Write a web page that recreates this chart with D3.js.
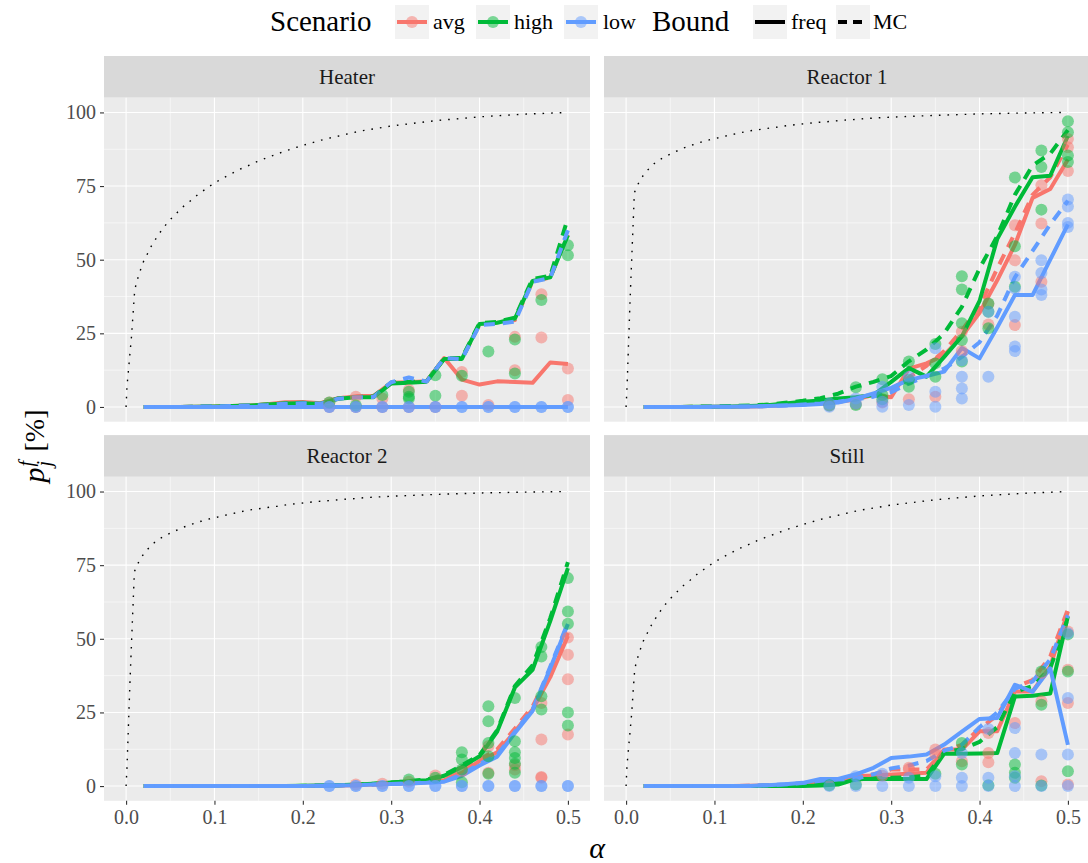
<!DOCTYPE html>
<html>
<head>
<meta charset="utf-8">
<script src="https://cdn.jsdelivr.net/npm/d3@7"></script>
<style>
  body { margin: 0; background: #ffffff; }
  svg { display: block; }
</style>
</head>
<body>
<svg id="chart" width="1088" height="863"></svg>
<script>
// ---- data ---------------------------------------------------------------
const panelNames = ["Heater", "Reactor 1", "Reactor 2", "Still"];
const scenarios = ["avg", "high", "low"];
const bounds = ["freq", "MC"];
const xTicks = [0.0, 0.1, 0.2, 0.3, 0.4, 0.5];
const xTickLabels = ["0.0", "0.1", "0.2", "0.3", "0.4", "0.5"];
const yTicks = [0, 25, 50, 75, 100];
const yTickLabels = ["0", "25", "50", "75", "100"];

// significance levels at which the bound curves are evaluated
const lineAlpha = [0.02, 0.04, 0.06, 0.08, 0.10, 0.12, 0.14, 0.16, 0.18, 0.20, 0.22, 0.24, 0.26,
                   0.28, 0.30, 0.32, 0.34, 0.36, 0.38, 0.40, 0.42, 0.44, 0.46, 0.48, 0.50];

// Heater
const heaterAvgFreq  = [0,0,0,0.1,0.2,0.3,0.5,0.9,1.6,1.7,1.3,3.0,3.6,3.8,8.2,8.4,8.7,16.6,9.3,7.6,8.7,8.5,8.2,15.1,14.6];
const heaterAvgMC    = [0,0,0,0.1,0.2,0.3,0.5,0.8,1.3,1.4,1.2,2.9,3.5,3.5,8.1,8.5,8.7,16.4,16.3,28.0,28.6,29.5,42.6,44.0,58.5];
const heaterHighFreq = [0,0,0,0.1,0.2,0.3,0.5,0.8,1.2,1.3,1.0,2.8,3.3,3.3,8.0,8.2,8.6,16.3,16.3,28.2,28.6,30.0,42.8,44.0,58.3];
const heaterHighMC   = [0,0,0,0.1,0.2,0.3,0.5,0.8,1.2,1.4,1.1,2.9,3.4,3.6,8.3,8.5,8.7,16.5,16.6,28.5,28.9,30.3,43.5,44.5,64.2];
const heaterLowFreq  = [0,0,0,0,0,0,0,0,0,0,0,0,0,0,0,0,0,0,0,0,0,0,0,0,0];
const heaterLowMC    = [0,0,0,0.1,0.2,0.3,0.5,0.7,1.1,1.3,1.1,2.8,3.3,3.4,8.4,10.0,8.6,16.6,16.2,27.8,28.2,29.0,42.5,43.8,60.0];

// Reactor 1
const r1AvgFreq  = [0,0,0,0,0.1,0.1,0.2,0.3,0.6,1.0,1.3,1.8,2.5,4.1,3.3,13.0,14.8,17.6,24.0,32.0,43.0,55.0,71.0,74.0,84.0];
const r1AvgMC    = [0,0,0,0.1,0.1,0.2,0.3,0.5,0.8,1.2,1.8,2.5,3.2,4.0,6.0,10.0,14.0,19.0,26.0,34.0,47.0,59.0,72.0,78.0,89.0];
const r1HighFreq = [0,0,0,0.1,0.1,0.2,0.3,0.6,1.2,1.8,2.2,2.9,3.3,4.1,8.5,13.2,10.3,17.0,24.0,36.0,57.0,68.0,78.0,78.5,92.0];
const r1HighMC   = [0,0,0,0.1,0.2,0.3,0.5,0.8,1.4,2.1,3.0,4.5,6.9,8.5,10.5,15.5,19.5,25.0,34.0,47.0,58.0,72.0,82.0,86.0,94.0];
const r1LowFreq  = [0,0,0,0,0.1,0.1,0.2,0.3,0.5,0.7,1.0,1.5,2.8,4.6,6.5,9.2,10.5,12.0,20.0,16.5,27.0,38.0,38.0,50.0,62.0];
const r1LowMC    = [0,0,0,0,0.1,0.1,0.2,0.3,0.5,0.8,1.2,1.8,2.6,3.5,5.0,8.0,10.5,13.0,17.0,22.0,31.0,44.0,53.0,62.0,70.0];

// Reactor 2
const r2AvgFreq  = [0,0,0,0,0,0,0,0,0,0,0.1,0.2,0.3,0.5,0.8,1.0,1.3,2.0,4.5,8.5,11.5,18.5,26.0,37.0,51.0];
const r2AvgMC    = [0,0,0,0,0,0,0,0,0,0,0.1,0.2,0.3,0.5,0.8,1.1,1.5,2.2,5.0,9.0,12.5,19.5,27.0,39.0,52.0];
const r2HighFreq = [0,0,0,0,0,0,0,0,0,0.1,0.2,0.3,0.5,0.8,1.2,1.6,2.0,3.5,6.5,10.1,18.5,33.5,39.5,56.0,74.0];
const r2HighMC   = [0,0,0,0,0,0,0,0,0,0.1,0.2,0.3,0.5,0.8,1.2,1.7,2.2,3.8,7.0,10.5,19.0,34.0,41.0,57.0,76.0];
const r2LowFreq  = [0,0,0,0,0,0,0,0,0,0,0.1,0.2,0.3,0.5,0.7,0.9,1.1,1.5,3.5,7.0,10.0,18.0,25.5,40.0,55.0];
const r2LowMC    = [0,0,0,0,0,0,0,0,0,0,0.1,0.2,0.3,0.5,0.7,0.9,1.2,1.6,4.0,7.5,10.5,18.5,26.0,40.5,55.5];

// Still
const stillAvgFreq  = [0,0,0,0,0,0,0.1,0.2,0.4,0.6,1.2,2.0,3.3,3.6,3.9,4.2,4.5,12.4,12.4,18.6,18.6,32.1,32.1,40.6,59.3];
const stillAvgMC    = [0,0,0,0,0,0,0.1,0.2,0.4,0.7,1.3,2.1,2.8,4.0,5.6,5.6,5.6,12.0,14.0,19.5,24.0,33.5,36.0,44.0,60.0];
const stillHighFreq = [0,0,0,0,0,0,0,0,0,0,0.2,0.5,2.4,2.4,2.4,2.4,2.4,11.0,11.0,11.1,11.2,30.4,30.7,31.4,57.6];
const stillHighMC   = [0,0,0,0,0,0,0,0.1,0.2,0.3,0.6,1.2,2.2,2.6,2.8,3.0,3.5,11.5,12.5,15.0,20.0,32.0,34.0,40.0,57.0];
const stillLowFreq  = [0,0,0,0,0,0,0,0.3,0.6,1.1,2.4,2.4,4.0,6.2,9.5,10.0,10.7,14.1,18.5,22.8,23.1,34.4,32.0,40.0,14.0];
const stillLowMC    = [0,0,0,0,0,0,0.1,0.3,0.6,1.0,1.8,2.2,2.5,4.0,6.0,7.0,8.5,12.0,14.0,20.0,25.0,33.0,35.5,43.0,58.0];

// observed failure rates per replicate: [alpha, percent]
const heaterAvgPts  = [[0.23,0],[0.23,1.5],[0.26,0],[0.26,3.5],[0.29,0],[0.29,2.9],[0.32,0],[0.32,5.8],[0.35,0],[0.38,3.8],[0.38,11.9],[0.41,0.7],[0.44,12.5],[0.44,23.8],[0.47,23.6],[0.47,38.3],[0.50,2.4],[0.50,13.1]];
const heaterHighPts = [[0.23,1.5],[0.26,0.5],[0.29,4.1],[0.32,5.2],[0.32,2.9],[0.32,3.5],[0.35,3.8],[0.35,10.8],[0.38,10.6],[0.41,18.8],[0.44,11.4],[0.44,22.9],[0.47,36.3],[0.50,51.5],[0.50,54.9]];
const heaterLowPts  = [[0.23,0],[0.26,0],[0.29,0],[0.32,0],[0.35,0],[0.38,0],[0.41,0],[0.44,0],[0.47,0],[0.50,0],[0.23,0],[0.26,0],[0.29,0],[0.32,0],[0.35,0],[0.38,0],[0.41,0],[0.44,0],[0.47,0],[0.50,0]];

const r1AvgPts  = [[0.23,0.5],[0.26,1.0],[0.29,1.5],[0.32,2.6],[0.35,3.5],[0.38,19.0],[0.38,25.5],[0.41,28.0],[0.41,35.0],[0.44,27.8],[0.44,49.8],[0.44,61.7],[0.47,42.5],[0.47,62.3],[0.47,75.3],[0.50,80.1],[0.50,88.2],[0.50,91.0]];
const r1HighPts = [[0.23,0.5],[0.26,6.7],[0.26,0.7],[0.29,9.4],[0.29,2.6],[0.29,4.1],[0.32,15.4],[0.32,6.9],[0.32,9.2],[0.35,21.4],[0.35,14.8],[0.35,10.3],[0.38,44.4],[0.38,39.9],[0.38,28.4],[0.38,22.7],[0.38,15.4],[0.41,35.1],[0.41,32.3],[0.41,26.7],[0.44,77.9],[0.44,54.6],[0.44,40.8],[0.47,87.1],[0.47,81.5],[0.47,67.0],[0.50,97.0],[0.50,93.3],[0.50,85.4],[0.50,83.2]];
const r1LowPts  = [[0.23,1.2],[0.23,0.1],[0.26,2.9],[0.26,1.2],[0.29,6.9],[0.29,0.1],[0.29,1.8],[0.32,10.3],[0.32,0.7],[0.35,19.9],[0.35,5.2],[0.35,0.1],[0.38,15.9],[0.38,10.3],[0.38,6.3],[0.38,2.9],[0.41,32.3],[0.41,10.3],[0.44,44.2],[0.44,40.2],[0.44,30.6],[0.44,20.5],[0.44,19.0],[0.47,49.8],[0.47,45.5],[0.47,39.9],[0.47,38.0],[0.50,70.4],[0.50,68.1],[0.50,62.5],[0.50,61.1]];

const r2AvgPts  = [[0.26,0.5],[0.29,0.8],[0.32,1.5],[0.35,3.6],[0.38,5.0],[0.41,13.5],[0.41,4.5],[0.44,7.1],[0.44,5.6],[0.47,28.2],[0.47,15.8],[0.47,3.1],[0.47,2.8],[0.50,50.4],[0.50,44.6],[0.50,36.3],[0.50,17.5]];
const r2HighPts = [[0.32,2.2],[0.35,2.8],[0.38,11.5],[0.38,9.0],[0.38,5.6],[0.38,1.3],[0.41,27.1],[0.41,22.0],[0.41,14.6],[0.41,10.1],[0.41,4.2],[0.44,29.9],[0.44,15.2],[0.44,11.5],[0.44,9.5],[0.44,7.6],[0.44,4.5],[0.47,47.2],[0.47,44.0],[0.47,30.5],[0.47,26.0],[0.50,70.6],[0.50,59.3],[0.50,55.1],[0.50,25.0],[0.50,20.6]];
const r2LowPts  = [[0.23,0],[0.26,0],[0.29,0],[0.32,0],[0.35,0],[0.38,0],[0.41,0],[0.44,0],[0.47,0],[0.50,0],[0.23,0],[0.26,0],[0.29,0],[0.32,0],[0.35,0],[0.38,0],[0.41,0],[0.44,0],[0.47,0],[0.50,0]];

const stillAvgPts  = [[0.29,3.5],[0.32,6.2],[0.32,5.6],[0.35,12.4],[0.35,10.7],[0.38,8.4],[0.41,18.0],[0.41,11.2],[0.41,8.1],[0.44,21.4],[0.47,28.8],[0.47,38.4],[0.47,1.6],[0.50,28.2],[0.50,39.5],[0.50,52.5],[0.50,0.5]];
const stillHighPts = [[0.23,0.3],[0.26,0.5],[0.35,4.2],[0.38,14.6],[0.38,7.3],[0.41,0.3],[0.44,7.3],[0.44,4.5],[0.44,2.8],[0.47,27.6],[0.47,38.9],[0.47,0.2],[0.50,5.0],[0.50,38.9],[0.50,51.5]];
const stillLowPts  = [[0.23,0],[0.26,0],[0.26,3.3],[0.29,0],[0.29,4.2],[0.32,0],[0.32,2.8],[0.35,0],[0.35,3.3],[0.38,0],[0.38,2.8],[0.38,11.2],[0.41,0],[0.41,2.8],[0.41,19.4],[0.44,0],[0.44,11.2],[0.44,19.7],[0.44,3.3],[0.47,10.7],[0.47,0],[0.50,0],[0.50,10.7],[0.50,29.9],[0.50,51.9]];

// theoretical upper bound curves: [alpha, percent]
const boundGradual = [[0,0],[0.001,7.0],[0.002,10.2],[0.004,16.9],[0.006,23.5],[0.0075,29.9],[0.009,36.5],[0.0098,39.8],
  [0.0124,42.9],[0.0158,46.1],[0.0196,49.3],[0.0245,52.2],[0.0294,55.1],[0.0354,57.9],[0.0415,60.6],[0.0486,63.2],
  [0.0562,65.5],[0.0641,67.9],[0.0724,69.9],[0.0807,72.0],[0.0901,74.0],[0.0988,75.8],[0.1082,77.5],[0.118,79.0],
  [0.1278,80.6],[0.138,81.9],[0.1482,83.3],[0.1583,84.5],[0.1685,85.6],[0.1791,86.8],[0.1893,87.8],[0.1998,88.8],
  [0.2104,89.7],[0.2209,90.6],[0.2318,91.4],[0.2424,92.1],[0.2533,92.9],[0.2639,93.6],[0.30,95.4],[0.35,97.2],
  [0.40,98.5],[0.45,99.4],[0.50,100]];
const boundSteep = [[0,0],[0.0011,7.0],[0.0045,36.3],[0.0072,56.5],[0.0094,72.8],[0.0136,75.7],[0.0192,78.5],
  [0.0264,81.1],[0.0347,83.4],[0.0441,85.0],[0.0539,86.4],[0.0641,87.8],[0.0743,88.9],[0.0848,89.9],[0.0954,90.8],
  [0.106,91.5],[0.1172,92.3],[0.1278,93.0],[0.1387,93.7],[0.1493,94.1],[0.1602,94.6],[0.1712,95.0],[0.1821,95.5],
  [0.193,95.9],[0.204,96.2],[0.2149,96.6],[0.2258,96.8],[0.2367,97.1],[0.2477,97.4],[0.2586,97.6],[0.2696,97.9],
  [0.30,98.4],[0.35,99.0],[0.40,99.5],[0.45,99.8],[0.50,100]];

// ---- assemble per-panel tables -----------------------------------------
const panelLines = [
  { avg: [heaterAvgFreq, heaterAvgMC], high: [heaterHighFreq, heaterHighMC], low: [heaterLowFreq, heaterLowMC] },
  { avg: [r1AvgFreq, r1AvgMC], high: [r1HighFreq, r1HighMC], low: [r1LowFreq, r1LowMC] },
  { avg: [r2AvgFreq, r2AvgMC], high: [r2HighFreq, r2HighMC], low: [r2LowFreq, r2LowMC] },
  { avg: [stillAvgFreq, stillAvgMC], high: [stillHighFreq, stillHighMC], low: [stillLowFreq, stillLowMC] }
];
const panelPoints = [
  { avg: heaterAvgPts, high: heaterHighPts, low: heaterLowPts },
  { avg: r1AvgPts, high: r1HighPts, low: r1LowPts },
  { avg: r2AvgPts, high: r2HighPts, low: r2LowPts },
  { avg: stillAvgPts, high: stillHighPts, low: stillLowPts }
];
const panelBound = [boundGradual, boundSteep, boundSteep, boundGradual];

// ---- styling ------------------------------------------------------------
const FONT = '"Liberation Serif", "DejaVu Serif", serif';
const colour = { avg: "#F8766D", high: "#00BA38", low: "#619CFF" };
const dashFor = { freq: null, MC: "11,8" };

const PW = 486, PH = 324, STRIP = 41.7;
const colLeft = [104, 604];
const rowTop = [97.7, 476.8];

const svg = d3.select("#chart");

panelNames.forEach((name, i) => {
  const col = i % 2, row = Math.floor(i / 2);
  const left = colLeft[col], top = rowTop[row];
  const x = d3.scaleLinear().domain([-0.025, 0.525]).range([left, left + PW]);
  const y = d3.scaleLinear().domain([-5, 105]).range([top + PH, top]);

  const g = svg.append("g");
  const clipId = "clip" + i;
  svg.append("clipPath").attr("id", clipId)
    .append("rect").attr("x", left).attr("y", top).attr("width", PW).attr("height", PH);

  // strip
  g.append("rect").attr("x", left).attr("y", top - STRIP).attr("width", PW).attr("height", STRIP)
    .attr("fill", "#D9D9D9");
  g.append("text").attr("x", left + PW / 2).attr("y", top - STRIP / 2 + 7)
    .attr("text-anchor", "middle").attr("font-family", FONT).attr("font-size", 21)
    .attr("fill", "#1A1A1A").text(name);

  // panel background and grid
  g.append("rect").attr("x", left).attr("y", top).attr("width", PW).attr("height", PH).attr("fill", "#EBEBEB");
  const xMinor = [0.05, 0.15, 0.25, 0.35, 0.45];
  const yMinor = [12.5, 37.5, 62.5, 87.5];
  g.selectAll(null).data(xMinor).join("line")
    .attr("x1", d => x(d)).attr("x2", d => x(d)).attr("y1", top).attr("y2", top + PH)
    .attr("stroke", "#fff").attr("stroke-width", 0.55);
  g.selectAll(null).data(yMinor).join("line")
    .attr("y1", d => y(d)).attr("y2", d => y(d)).attr("x1", left).attr("x2", left + PW)
    .attr("stroke", "#fff").attr("stroke-width", 0.55);
  g.selectAll(null).data(xTicks).join("line")
    .attr("x1", d => x(d)).attr("x2", d => x(d)).attr("y1", top).attr("y2", top + PH)
    .attr("stroke", "#fff").attr("stroke-width", 1.1);
  g.selectAll(null).data(yTicks).join("line")
    .attr("y1", d => y(d)).attr("y2", d => y(d)).attr("x1", left).attr("x2", left + PW)
    .attr("stroke", "#fff").attr("stroke-width", 1.1);

  const plot = g.append("g").attr("clip-path", `url(#${clipId})`);

  // bound curve
  const curve = d3.line().x(d => x(d[0])).y(d => y(d[1]));
  plot.append("path").attr("d", curve(panelBound[i]))
    .attr("fill", "none").attr("stroke", "#000").attr("stroke-width", 1.4)
    .attr("stroke-dasharray", "1.6,7").attr("stroke-linecap", "butt");

  // scenario lines
  const line = d3.line().x((d, k) => x(lineAlpha[k])).y(d => y(d));
  scenarios.forEach(s => {
    bounds.forEach((b, bi) => {
      const p = plot.append("path").attr("d", line(panelLines[i][s][bi]))
        .attr("fill", "none").attr("stroke", colour[s]).attr("stroke-width", 4)
        .attr("stroke-linejoin", "round");
      if (dashFor[b]) p.attr("stroke-dasharray", dashFor[b]);
    });
  });

  // replicate points
  scenarios.forEach(s => {
    plot.selectAll(null).data(panelPoints[i][s]).join("circle")
      .attr("cx", d => x(d[0])).attr("cy", d => y(d[1])).attr("r", 6)
      .attr("fill", colour[s]).attr("fill-opacity", 0.5);
  });

  // axes
  if (col === 0) {
    const ya = g.append("g").attr("transform", `translate(${left},0)`)
      .call(d3.axisLeft(y).tickValues(yTicks).tickFormat((d, k) => yTickLabels[k]).tickSize(4).tickPadding(4));
    ya.select(".domain").remove();
    ya.selectAll(".tick line").attr("stroke", "#333333").attr("stroke-width", 1.1);
    ya.selectAll(".tick text").attr("font-family", FONT).attr("font-size", 20).attr("fill", "#4D4D4D");
  }
  if (row === 1) {
    const xa = g.append("g").attr("transform", `translate(0,${top + PH})`)
      .call(d3.axisBottom(x).tickValues(xTicks).tickFormat((d, k) => xTickLabels[k]).tickSize(4).tickPadding(5));
    xa.select(".domain").remove();
    xa.selectAll(".tick line").attr("stroke", "#333333").attr("stroke-width", 1.1);
    xa.selectAll(".tick text").attr("font-family", FONT).attr("font-size", 20).attr("fill", "#4D4D4D");
  }
});

// ---- axis titles ----------------------------------------------------------
svg.append("text").attr("x", 597).attr("y", 858).attr("text-anchor", "middle")
  .attr("font-family", FONT).attr("font-size", 30).attr("font-style", "italic").attr("fill", "#000").text("α");

const yt = svg.append("g");
const yText = yt.append("text").attr("font-family", FONT).attr("fill", "#000");
yText.append("tspan").attr("font-size", 30).attr("font-style", "italic").text("p");
const pW = yText.node().getComputedTextLength();
yt.append("text").attr("x", pW + 1).attr("y", -11).attr("font-family", FONT).attr("font-size", 20)
  .attr("font-style", "italic").text("f");
yt.append("text").attr("x", pW + 1).attr("y", 7).attr("font-family", FONT).attr("font-size", 20)
  .attr("font-style", "italic").text("j");
yt.append("text").attr("x", pW + 16).attr("y", 0).attr("font-family", FONT).attr("font-size", 28).text("[%]");
const ytBox = yt.node().getBBox();
yt.attr("transform", `translate(44,${445 + ytBox.width / 2}) rotate(-90)`);

// ---- legend -----------------------------------------------------------------
const lg = svg.append("g");
const legendY = 22;
lg.append("text").attr("x", 270).attr("y", legendY + 9).attr("font-family", FONT)
  .attr("font-size", 29).attr("fill", "#000").text("Scenario");
const scenKeyX = [395, 476, 564];
const scenTextX = [433, 514, 603];
scenarios.forEach((s, k) => {
  const kx = scenKeyX[k];
  lg.append("rect").attr("x", kx).attr("y", legendY - 17).attr("width", 34).attr("height", 34).attr("fill", "#F2F2F2");
  lg.append("line").attr("x1", kx + 2).attr("x2", kx + 32).attr("y1", legendY).attr("y2", legendY)
    .attr("stroke", colour[s]).attr("stroke-width", 4);
  lg.append("circle").attr("cx", kx + 17).attr("cy", legendY).attr("r", 6)
    .attr("fill", colour[s]).attr("fill-opacity", 0.5);
  lg.append("text").attr("x", scenTextX[k]).attr("y", legendY + 7).attr("font-family", FONT)
    .attr("font-size", 22).attr("fill", "#000").text(s);
});
lg.append("text").attr("x", 652).attr("y", legendY + 9).attr("font-family", FONT)
  .attr("font-size", 29).attr("fill", "#000").text("Bound");
const boundKeyX = [753, 836];
const boundTextX = [791, 873];
bounds.forEach((b, k) => {
  const kx = boundKeyX[k];
  lg.append("rect").attr("x", kx).attr("y", legendY - 17).attr("width", 34).attr("height", 34).attr("fill", "#F2F2F2");
  const l = lg.append("line").attr("x1", kx + 2).attr("x2", kx + 32).attr("y1", legendY).attr("y2", legendY)
    .attr("stroke", "#000").attr("stroke-width", 4);
  if (dashFor[b]) l.attr("stroke-dasharray", "9,6");
  lg.append("text").attr("x", boundTextX[k]).attr("y", legendY + 7).attr("font-family", FONT)
    .attr("font-size", 22).attr("fill", "#000").text(b);
});
</script>
</body>
</html>
